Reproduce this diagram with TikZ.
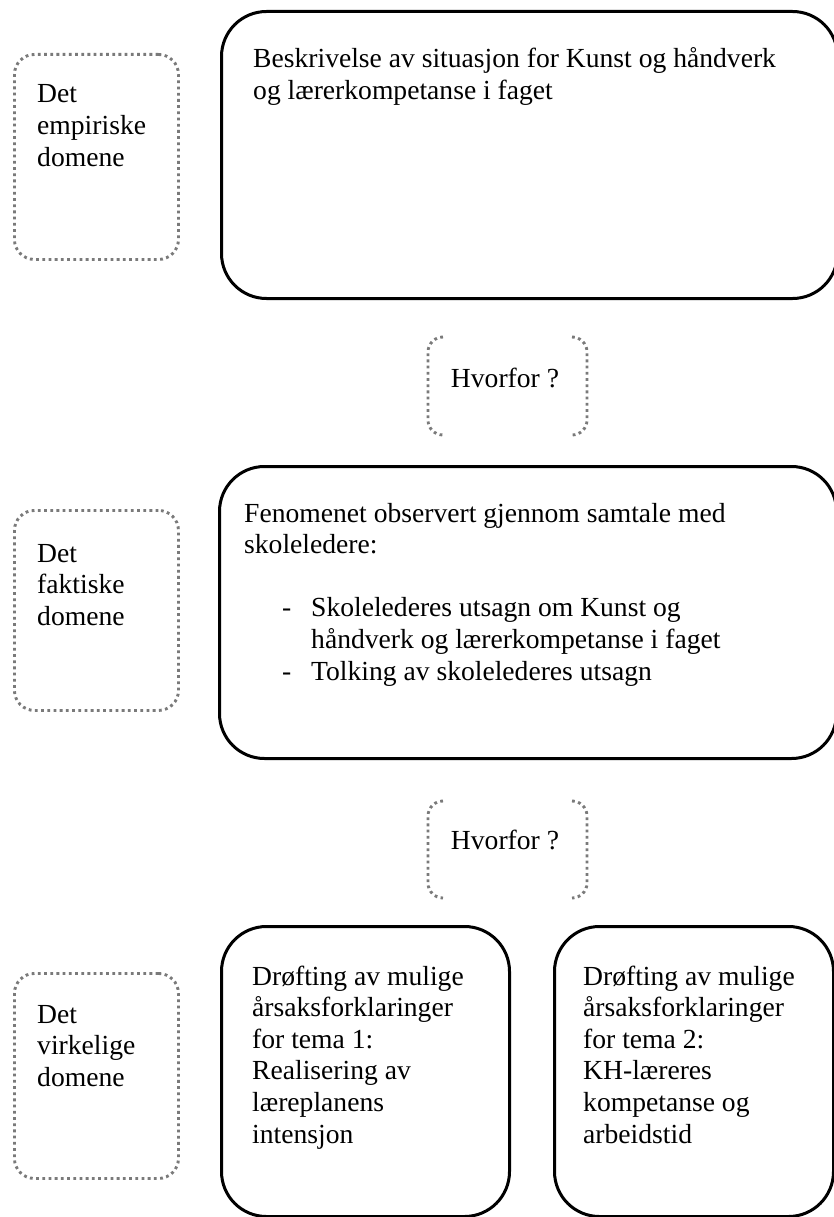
\documentclass[tikz,border=0pt]{standalone}
\usepackage{fontspec}
\setmainfont{Liberation Serif}
\definecolor{dotgray}{HTML}{7A7A7A}
\begin{document}
\begin{tikzpicture}[x=1pt,y=-1pt,
  mainbox/.style={draw=black, line width=3pt, rounded corners=45pt, inner sep=0pt, anchor=north west},
  domainbox/.style={draw=dotgray, line width=2.9pt, dash pattern=on 2.8pt off 3.4pt, rounded corners=20pt, inner sep=0pt, anchor=north west, minimum width=164pt},
  bracketline/.style={draw=dotgray, line width=2.9pt, dash pattern=on 2.8pt off 3.4pt, rounded corners=15pt},
  txt/.style={anchor=base west, inner sep=0pt, font=\fontsize{27.6}{31.6}\selectfont},
  qtxt/.style={anchor=base, inner sep=0pt, font=\fontsize{27.6}{31.6}\selectfont}]
\useasboundingbox (0,0) rectangle (833,1217);

% main boxes
\node[mainbox, minimum width=616pt, minimum height=287pt] (empbox) at (220,10) {};
\node[mainbox, minimum width=617pt, minimum height=292pt] (faktbox) at (218,465) {};
\node[mainbox, minimum width=288pt, minimum height=290pt] (tema1box) at (220,925) {};
\node[mainbox, minimum width=279pt, minimum height=290pt] (tema2box) at (553,925) {};

% domain boxes
\node[domainbox, minimum height=205pt] (dom1) at (13,53) {};
\node[domainbox, minimum height=200pt] (dom2) at (13,509) {};
\node[domainbox, minimum height=205pt] (dom3) at (13,972) {};

% domain labels
\node[txt] (dom1t) at (37,103) {\parbox[t]{140pt}{\raggedright Det\\ empiriske\\ domene}};
\node[txt] (dom2t) at (37,562) {\parbox[t]{140pt}{\raggedright Det\\ faktiske\\ domene}};
\node[txt] (dom3t) at (37,1023) {\parbox[t]{140pt}{\raggedright Det\\ virkelige\\ domene}};

% main texts
\node[txt] (empt) at (253,68) {\parbox[t]{570pt}{\raggedright Beskrivelse av situasjon for Kunst og håndverk\\ og lærerkompetanse i faget}};
\node[txt] (faktt) at (244,522) {\parbox[t]{580pt}{\raggedright Fenomenet observert gjennom samtale med\\ skoleledere:\\ \mbox{}\\
\makebox[67pt][l]{\hspace{38pt}-}Skolelederes utsagn om Kunst og\\
\hspace*{67pt}håndverk og lærerkompetanse i faget\\
\makebox[67pt][l]{\hspace{38pt}-}Tolking av skolelederes utsagn}};
\node[txt] (tema1t) at (252,985) {\parbox[t]{250pt}{\raggedright Drøfting av mulige\\ årsaksforklaringer\\ for tema 1:\\ Realisering av\\ læreplanens\\ intensjon}};
\node[txt] (tema2t) at (583,985) {\parbox[t]{245pt}{\raggedright Drøfting av mulige\\ årsaksforklaringer\\ for tema 2:\\ KH-læreres\\ kompetanse og\\ arbeidstid}};

% Hvorfor brackets
\draw[bracketline] (443,337) -- (428,337) -- (428,435) -- (443,435);
\draw[bracketline] (572,337) -- (587,337) -- (587,435) -- (572,435);
\node[qtxt] (q1) at (505,387) {Hvorfor ?};
\draw[bracketline] (443,801) -- (428,801) -- (428,898) -- (443,898);
\draw[bracketline] (572,801) -- (587,801) -- (587,898) -- (572,898);
\node[qtxt] (q2) at (505,849) {Hvorfor ?};
\end{tikzpicture}
\end{document}
